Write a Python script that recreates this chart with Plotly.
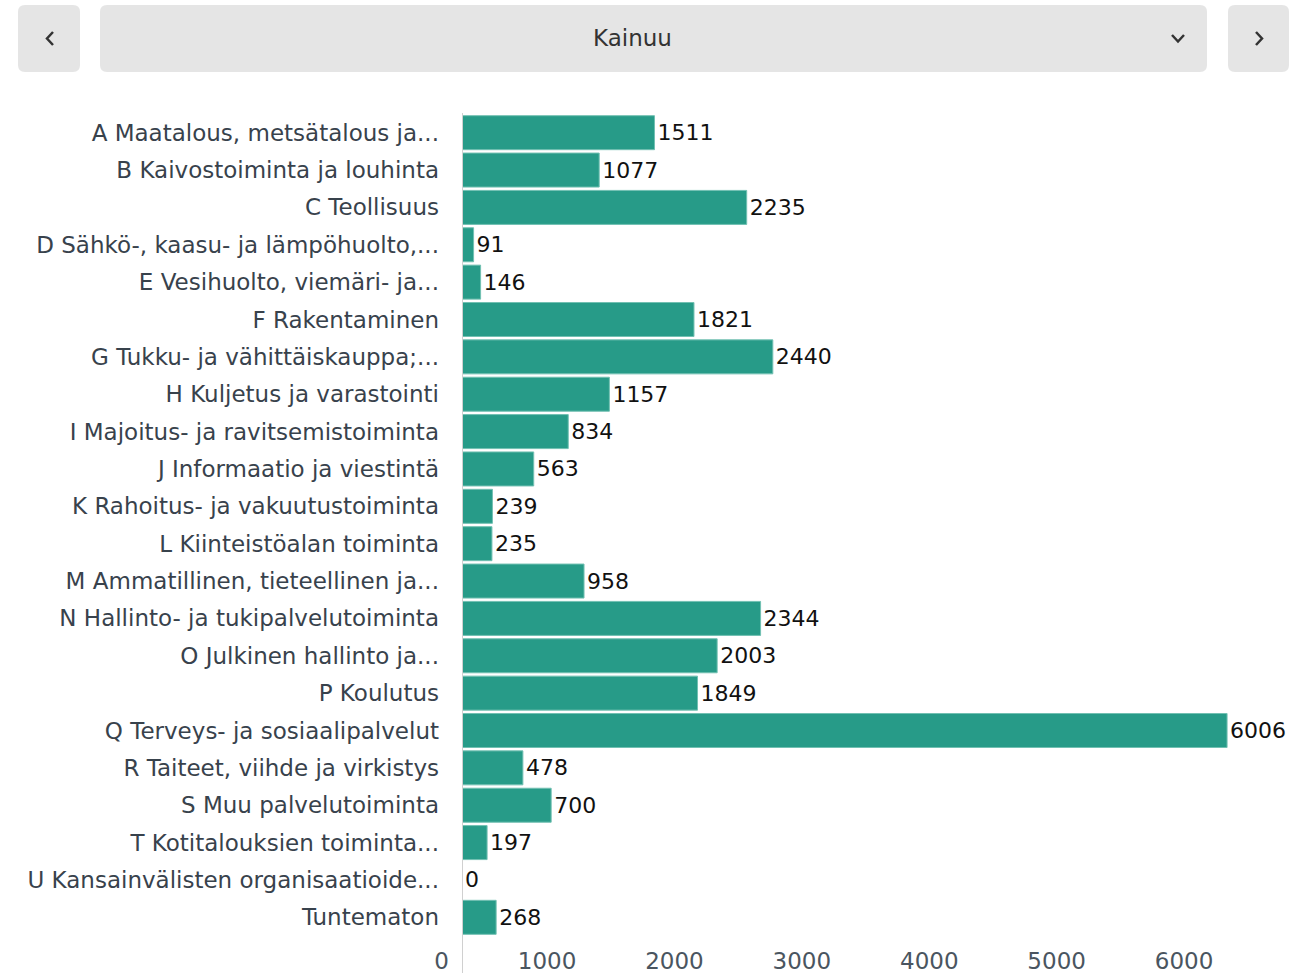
import plotly.graph_objects as go

categories = [
    "A Maatalous, metsätalous ja...",
    "B Kaivostoiminta ja louhinta",
    "C Teollisuus",
    "D Sähkö-, kaasu- ja lämpöhuolto,...",
    "E Vesihuolto, viemäri- ja...",
    "F Rakentaminen",
    "G Tukku- ja vähittäiskauppa;...",
    "H Kuljetus ja varastointi",
    "I Majoitus- ja ravitsemistoiminta",
    "J Informaatio ja viestintä",
    "K Rahoitus- ja vakuutustoiminta",
    "L Kiinteistöalan toiminta",
    "M Ammatillinen, tieteellinen ja...",
    "N Hallinto- ja tukipalvelutoiminta",
    "O Julkinen hallinto ja...",
    "P Koulutus",
    "Q Terveys- ja sosiaalipalvelut",
    "R Taiteet, viihde ja virkistys",
    "S Muu palvelutoiminta",
    "T Kotitalouksien toiminta...",
    "U Kansainvälisten organisaatioide...",
    "Tuntematon",
]
values = [1511, 1077, 2235, 91, 146, 1821, 2440, 1157, 834, 563, 239, 235,
          958, 2344, 2003, 1849, 6006, 478, 700, 197, 0, 268]
x_ticks = [0, 1000, 2000, 3000, 4000, 5000, 6000]
region = "Kainuu"

W, H = 1306, 973
ML, MR, MT, MB = 462, 16, 114, 37
PW, PH = W - ML - MR, H - MT - MB
FONT = "DejaVu Sans"


def px(x):
    return (x - ML) / PW


def py(y):
    return (H - MB - y) / PH


def rrect(x0, y0, x1, y1, r=7):
    return (f"M {px(x0 + r)},{py(y0)} L {px(x1 - r)},{py(y0)} "
            f"Q {px(x1)},{py(y0)} {px(x1)},{py(y0 + r)} "
            f"L {px(x1)},{py(y1 - r)} Q {px(x1)},{py(y1)} {px(x1 - r)},{py(y1)} "
            f"L {px(x0 + r)},{py(y1)} Q {px(x0)},{py(y1)} {px(x0)},{py(y1 - r)} "
            f"L {px(x0)},{py(y0 + r)} Q {px(x0)},{py(y0)} {px(x0 + r)},{py(y0)} Z")


def poly(points):
    return "M " + " L ".join(f"{px(a)},{py(b)}" for a, b in points)


fig = go.Figure(go.Bar(
    x=values, y=categories, orientation="h",
    marker=dict(color="#279b88", line=dict(color="#72c0b2", width=1)),
    text=[str(v) for v in values], textposition="outside",
    textfont=dict(family=FONT, size=22, color="#111111"),
    cliponaxis=False, hoverinfo="x+y",
))

shapes = []
gray = "#e5e5e5"
for (x0, x1) in [(18, 80), (100, 1207), (1228, 1289)]:
    shapes.append(dict(type="path", path=rrect(x0, 5, x1, 72), xref="paper", yref="paper",
                       fillcolor=gray, line=dict(width=0), layer="below"))
# chevrons
shapes.append(dict(type="path", path=poly([(53, 32), (47, 38.5), (53, 45)]), xref="paper", yref="paper",
                   line=dict(color="#333333", width=2.5)))
shapes.append(dict(type="path", path=poly([(1256, 32), (1262, 38.5), (1256, 45)]), xref="paper", yref="paper",
                   line=dict(color="#333333", width=2.5)))
shapes.append(dict(type="path", path=poly([(1172, 35), (1178, 41.5), (1184, 35)]), xref="paper", yref="paper",
                   line=dict(color="#333333", width=2.5)))
# y axis line extending below plot
shapes.append(dict(type="line", xref="x", x0=0, x1=0, yref="paper", y0=py(973), y1=py(113),
                   line=dict(color="#d0d0d0", width=2)))

fig.update_layout(
    width=W, height=H,
    margin=dict(l=ML, r=MR, t=MT, b=MB, pad=0, autoexpand=False),
    paper_bgcolor="white", plot_bgcolor="white",
    font=dict(family=FONT, color="#38424c"),
    bargap=0.09,
    showlegend=False,
    shapes=shapes,
    annotations=[dict(text=region, xref="paper", yref="paper", x=px(632), y=py(38.5),
                      showarrow=False, font=dict(family=FONT, size=23, color="#333333"),
                      xanchor="center", yanchor="middle")],
    xaxis=dict(range=[0, 6500], tickvals=x_ticks, ticktext=[str(t) for t in x_ticks],
               showgrid=False, zeroline=False, showline=False, ticks="", automargin=False,
               ticklabelposition="outside left", ticklabelshift=-13, ticklabelstandoff=9,
               tickfont=dict(family=FONT, size=23, color="#4a5560"), fixedrange=True),
    yaxis=dict(autorange="reversed", showgrid=False, zeroline=False, showline=False, ticks="",
               automargin=False,
               ticklabelstandoff=22, tickfont=dict(family=FONT, size=23, color="#38424c"),
               fixedrange=True),
)

fig.write_html("out.html", config={"displayModeBar": False},
               post_script="document.body.style.margin='0';document.body.style.overflow='hidden';")
